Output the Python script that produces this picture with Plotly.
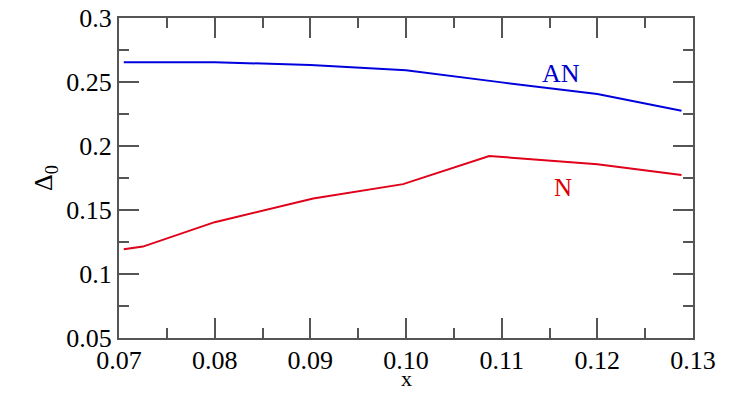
import plotly.graph_objects as go

# Gap parameter Delta_0 versus doping x for the two phases
x_an = [0.0705, 0.08, 0.09, 0.10, 0.11, 0.12, 0.1288]
delta_an = [0.2654, 0.2655, 0.2632, 0.2592, 0.2497, 0.2406, 0.2276]

x_n = [0.0705, 0.0725, 0.08, 0.0903, 0.0997, 0.1087, 0.12, 0.1288]
delta_n = [0.1193, 0.1214, 0.1405, 0.1590, 0.1702, 0.1922, 0.1857, 0.1773]

x_ticks = [0.07, 0.08, 0.09, 0.10, 0.11, 0.12, 0.13]
x_ticktext = ["0.07", "0.08", "0.09", "0.10", "0.11", "0.12", "0.13"]
y_ticks = [0.05, 0.1, 0.15, 0.2, 0.25, 0.3]
y_ticktext = ["0.05", "0.1", "0.15", "0.2", "0.25", "0.3"]

serif = "Liberation Serif, Times New Roman, serif"
axis_col = "#555555"

fig = go.Figure()
fig.add_trace(go.Scatter(x=x_an, y=delta_an, mode="lines",
                         line=dict(color="#0000dd", width=2), showlegend=False))
fig.add_trace(go.Scatter(x=x_n, y=delta_n, mode="lines",
                         line=dict(color="#e0001a", width=2), showlegend=False))

fig.add_annotation(x=0.1162, y=0.2566, text="AN", showarrow=False,
                   font=dict(family=serif, size=26, color="#0000cc"))
fig.add_annotation(x=0.1164, y=0.1675, text="N", showarrow=False,
                   font=dict(family=serif, size=25, color="#dd0000"))

# x-axis title, anchored to the bottom edge of the page under the tick labels
fig.add_annotation(x=0.5, y=-0.171875, xref="paper", yref="paper", text="x",
                   showarrow=False, xanchor="center", yanchor="bottom",
                   font=dict(family=serif, size=22, color="black"))

axis_common = dict(
    showline=True, linecolor=axis_col, linewidth=2, mirror="ticks",
    ticks="inside", ticklen=20, tickwidth=2, tickcolor=axis_col,
    showgrid=False, zeroline=False, automargin=False,
    tickfont=dict(family=serif, size=26, color="black"),
)

fig.update_xaxes(
    range=[0.07, 0.13], tickvals=x_ticks, ticktext=x_ticktext,
    minor=dict(ticks="inside", ticklen=10, tickwidth=2, tickcolor=axis_col,
               dtick=0.005, tick0=0.07, showgrid=False),
    ticklabelstandoff=-2,
    **axis_common,
)
fig.update_yaxes(
    range=[0.05, 0.3], tickvals=y_ticks, ticktext=y_ticktext,
    minor=dict(ticks="inside", ticklen=10, tickwidth=2, tickcolor=axis_col,
               dtick=0.025, tick0=0.05, showgrid=False),
    title=dict(text="Δ<sub>0</sub>", font=dict(family=serif, size=26, color="black"), standoff=6),
    **axis_common,
)

fig.update_layout(
    width=735, height=393,
    margin=dict(l=119, r=42, t=18, b=55),
    paper_bgcolor="white", plot_bgcolor="white",
)

fig.write_html("out.html")
